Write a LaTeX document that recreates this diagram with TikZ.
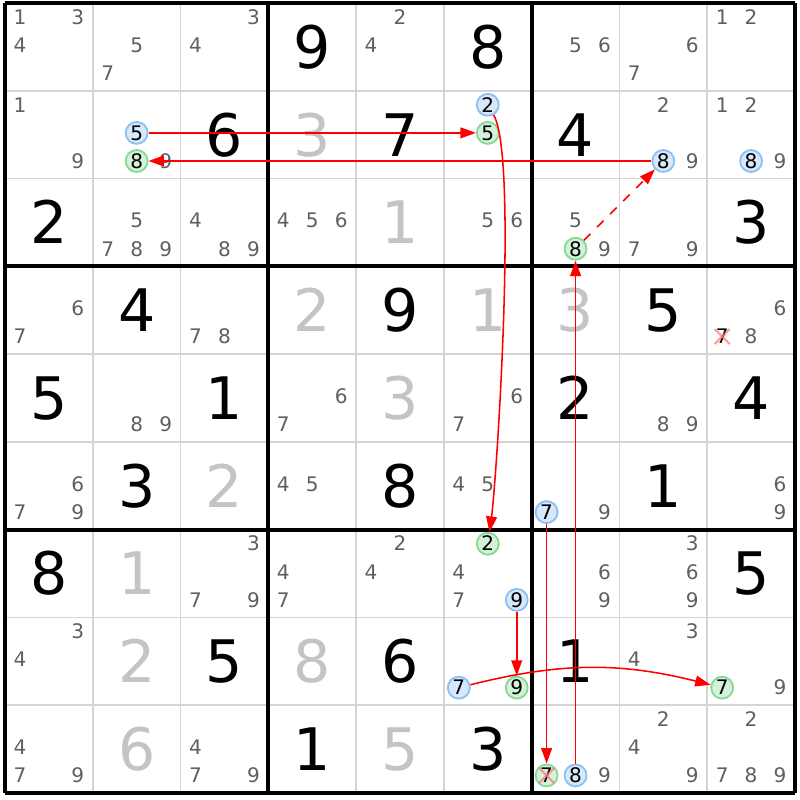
\documentclass[tikz,border=0pt]{standalone}
\usepackage{fontspec}
\setmainfont{DejaVu Sans}
\usepackage{xcolor}
\usepackage{tikz}
\usetikzlibrary{arrows.meta}
\definecolor{candgray}{HTML}{5F5F5F}
\definecolor{solvedgray}{HTML}{C4C4C4}
\definecolor{gridgray}{HTML}{D4D4D4}
\definecolor{bluefill}{HTML}{D6E8FA}
\definecolor{blueline}{HTML}{8EC0F2}
\definecolor{greenfill}{HTML}{D4F2DA}
\definecolor{greenline}{HTML}{88D896}
\tikzset{
	cand/.style = {inner sep=0pt, text=candgray, font=\fontsize{6.5}{7}\selectfont, text height=4.7pt, text depth=0pt},
	bigdigit/.style = {inner sep=0pt, font=\fontsize{19}{20}\selectfont, text height=13.9pt, text depth=0pt},
	given/.style = {bigdigit, text=black},
	solved/.style = {bigdigit, text=solvedgray},
	onblue/.style = {circle, draw=blueline, fill=bluefill, line width=0.6pt, minimum size=0.25cm, text=black},
	ongreen/.style = {circle, draw=greenline, fill=greenfill, line width=0.6pt, minimum size=0.25cm, text=black},
	struck/.style = {text=black},
	thinline/.style = {draw=gridgray, line width=0.6pt},
	boxline/.style = {draw=black, line width=1.2pt},
	link/.style = {red, line width=0.5pt, ->},
	xmark/.style = {red!55, line width=0.7pt, opacity=0.7}
}
% one candidate: [style] row, column, digit
\newcommand{\cand}[4][]{%
	\pgfmathsetmacro{\cx}{#3-1+0.17+0.33*mod(#4-1,3)}%
	\pgfmathsetmacro{\cy}{-(#2-1)-0.16-0.32*floor((#4-1)/3)}%
	\node[cand,#1] (r#2c#3d#4) at (\cx,\cy) {#4};}
% plain candidates of one cell
\newcommand{\cands}[3]{\foreach \d in {#3} {\cand{#1}{#2}{\d}}}
% filled cells
\newcommand{\bignum}[3]{\node[given] (r#1c#2) at (#2-0.5,-#1+0.5) {#3};}
\newcommand{\greynum}[3]{\node[solved] (r#1c#2) at (#2-0.5,-#1+0.5) {#3};}
\begin{document}
\begin{tikzpicture}[>={Triangle[length=5pt,width=3.5pt]}]
	\useasboundingbox (-0.057,0.034) rectangle (9.057,-9.08);
	
	% grid
	\foreach \i in {1,...,8} {
		\draw[thinline] (\i,0) -- (\i,-9);
		\draw[thinline] (0,-\i) -- (9,-\i);
	}
	\foreach \i in {0,3,6,9} {
		\draw[boxline] (\i,0) -- (\i,-9);
		\draw[boxline] (0,-\i) -- (9,-\i);
	}
	
	% row 1
	\cands{1}{1}{1,3,4} \cands{1}{2}{5,7} \cands{1}{3}{3,4}
	\bignum{1}{4}{9} \cands{1}{5}{2,4} \bignum{1}{6}{8}
	\cands{1}{7}{5,6} \cands{1}{8}{6,7} \cands{1}{9}{1,2}
	% row 2
	\cands{2}{1}{1,9} \cand[onblue]{2}{2}{5} \cand[ongreen]{2}{2}{8} \cands{2}{2}{9}
	\bignum{2}{3}{6} \greynum{2}{4}{3} \bignum{2}{5}{7}
	\cand[onblue]{2}{6}{2} \cand[ongreen]{2}{6}{5} \bignum{2}{7}{4}
	\cands{2}{8}{2,9} \cand[onblue]{2}{8}{8} \cands{2}{9}{1,2,9} \cand[onblue]{2}{9}{8}
	% row 3
	\bignum{3}{1}{2} \cands{3}{2}{5,7,8,9} \cands{3}{3}{4,8,9}
	\cands{3}{4}{4,5,6} \greynum{3}{5}{1} \cands{3}{6}{5,6}
	\cands{3}{7}{5,9} \cand[ongreen]{3}{7}{8} \cands{3}{8}{7,9} \bignum{3}{9}{3}
	% row 4
	\cands{4}{1}{6,7} \bignum{4}{2}{4} \cands{4}{3}{7,8}
	\greynum{4}{4}{2} \bignum{4}{5}{9} \greynum{4}{6}{1}
	\greynum{4}{7}{3} \bignum{4}{8}{5} \cands{4}{9}{6,8} \cand[struck]{4}{9}{7}
	% row 5
	\bignum{5}{1}{5} \cands{5}{2}{8,9} \bignum{5}{3}{1}
	\cands{5}{4}{6,7} \greynum{5}{5}{3} \cands{5}{6}{6,7}
	\bignum{5}{7}{2} \cands{5}{8}{8,9} \bignum{5}{9}{4}
	% row 6
	\cands{6}{1}{6,7,9} \bignum{6}{2}{3} \greynum{6}{3}{2}
	\cands{6}{4}{4,5} \bignum{6}{5}{8} \cands{6}{6}{4,5}
	\cand[onblue]{6}{7}{7} \cands{6}{7}{9} \bignum{6}{8}{1} \cands{6}{9}{6,9}
	% row 7
	\bignum{7}{1}{8} \greynum{7}{2}{1} \cands{7}{3}{3,7,9}
	\cands{7}{4}{4,7} \cands{7}{5}{2,4}
	\cand[ongreen]{7}{6}{2} \cands{7}{6}{4,7} \cand[onblue]{7}{6}{9}
	\cands{7}{7}{6,9} \cands{7}{8}{3,6,9} \bignum{7}{9}{5}
	% row 8
	\cands{8}{1}{3,4} \greynum{8}{2}{2} \bignum{8}{3}{5}
	\greynum{8}{4}{8} \bignum{8}{5}{6} \cand[onblue]{8}{6}{7} \cand[ongreen]{8}{6}{9}
	\bignum{8}{7}{1} \cands{8}{8}{3,4} \cand[ongreen]{8}{9}{7} \cands{8}{9}{9}
	% row 9
	\cands{9}{1}{4,7,9} \greynum{9}{2}{6} \cands{9}{3}{4,7,9}
	\bignum{9}{4}{1} \greynum{9}{5}{5} \bignum{9}{6}{3}
	\cand[ongreen,struck]{9}{7}{7} \cand[onblue]{9}{7}{8} \cands{9}{7}{9}
	\cands{9}{8}{2,4,9} \cands{9}{9}{2,7,8,9}
	
	% chain
	\draw[link] (r2c2d5) -- (r2c6d5);
	\draw[link] (r2c6d2) to[out=-60, in=82, looseness=0.3] (r7c6d2);
	\draw[link] (r7c6d9) -- (r8c6d9);
	\draw[link] (r8c6d7) to[bend left=14] (r8c9d7);
	\draw[link] (r6c7d7) -- (r9c7d7);
	\draw[link] (r9c7d8) -- (r3c7d8);
	\draw[link, dashed] (r3c7d8) -- (r2c8d8);
	\draw[link] (r2c8d8) -- (r2c2d8);
	
	% eliminations
	\foreach \n in {r4c9d7, r9c7d7} {
		\draw[xmark] ([shift={(-0.085,0.085)}]\n.center) -- ([shift={(0.085,-0.085)}]\n.center);
		\draw[xmark] ([shift={(-0.085,-0.085)}]\n.center) -- ([shift={(0.085,0.085)}]\n.center);
	}
\end{tikzpicture}
\end{document}
